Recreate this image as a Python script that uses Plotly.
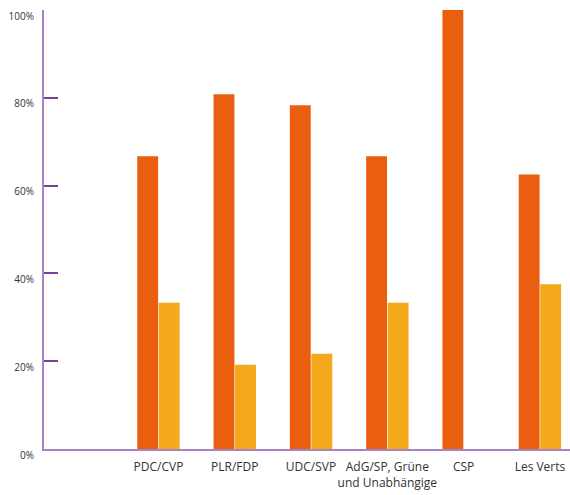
import plotly.graph_objects as go

parties = ["PDC/CVP", "PLR/FDP", "UDC/SVP", "AdG/SP, Grüne<br>und Unabhängige", "CSP", "Les Verts"]
positions = [1, 2, 3, 4, 5, 6]
series_a = [66.7, 80.8, 78.3, 66.7, 100.0, 62.5]
series_b = [33.3, 19.2, 21.7, 33.3, 0.0, 37.5]
y_ticks = [0, 20, 40, 60, 80, 100]
y_tick_labels = ["0%", "20%", "40%", "60%", "80%", "100%"]

fig = go.Figure()
fig.add_trace(go.Bar(x=positions, y=series_a, marker=dict(color="#E95E0F", line=dict(width=0)), name="A"))
fig.add_trace(go.Bar(x=positions, y=series_b, marker=dict(color="#F4A81C", line=dict(width=0)), name="B"))

fig.update_layout(
    width=570, height=495,
    margin=dict(l=44, r=0, t=10, b=46, autoexpand=False),
    paper_bgcolor="white", plot_bgcolor="white",
    barmode="group", bargap=0.436, bargroupgap=0.03,
    showlegend=False,
    font=dict(family="Open Sans, Noto Sans, sans-serif", color="#333333"),
    xaxis=dict(
        range=[-0.5, 6.394],
        tickmode="array", tickvals=positions, ticktext=parties,
        showline=True, linecolor="#A883C4", linewidth=2,
        ticks="", showgrid=False, zeroline=False,
        tickfont=dict(size=12, color="#333333"),
        tickangle=0, automargin=False, ticklabeloverflow="allow",
        ticklabelstandoff=6,
    ),
    yaxis=dict(
        range=[0, 100],
        tickmode="array", tickvals=y_ticks, ticktext=y_tick_labels,
        showline=True, linecolor="#A883C4", linewidth=2,
        ticks="inside", ticklen=14, tickwidth=1.5, tickcolor="#7A3F98",
        showgrid=False, zeroline=False, automargin=False, ticklabeloverflow="allow",
        tickfont=dict(size=10, color="#333333"),
        ticklabelshift=6, ticklabelstandoff=6,
    ),
)

fig.write_html(
    "out.html",
    config={"displayModeBar": False},
    post_script="document.body.style.margin='0';document.body.style.overflow='hidden';",
)
